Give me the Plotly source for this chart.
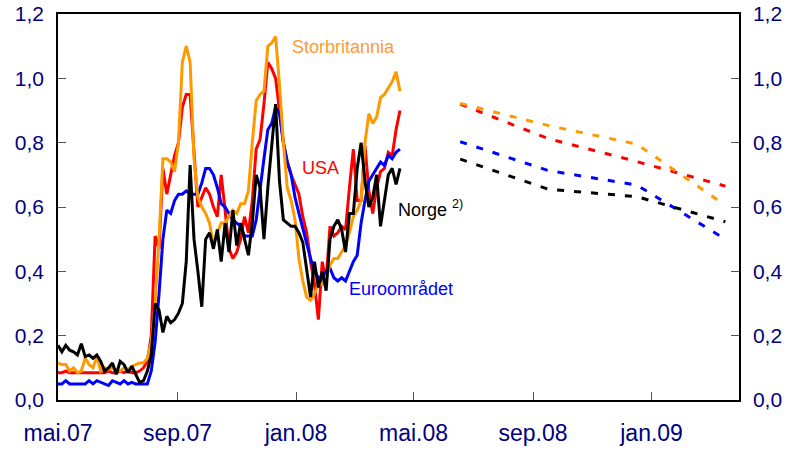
import pandas as pd
import plotly.graph_objects as go

# ---- data -------------------------------------------------------------
start_date = "2007-05-01"
step = "4D"
n_points = 89
dates = pd.date_range(start_date, periods=n_points, freq=step)

norge = [0.17,0.15,0.17,0.155,0.15,0.14,0.175,0.135,0.14,0.13,
         0.14,0.12,0.09,0.10,0.115,0.08,0.12,0.11,0.085,0.105,
         0.08,0.055,0.06,0.09,0.14,0.30,0.28,0.21,0.26,0.24,
         0.25,0.27,0.30,0.43,0.73,0.50,0.40,0.29,0.50,0.52,
         0.47,0.53,0.43,0.55,0.46,0.59,0.48,0.55,0.50,0.45,
         0.55,0.70,0.66,0.50,0.66,0.78,0.92,0.68,0.56,0.55,
         0.54,0.54,0.52,0.49,0.40,0.32,0.43,0.35,0.40,0.34,
         0.50,0.54,0.56,0.53,0.46,0.58,0.58,0.72,0.80,0.68,
         0.60,0.63,0.70,0.54,0.62,0.70,0.72,0.67,0.72]

euro = [0.05,0.05,0.06,0.05,0.05,0.05,0.05,0.05,0.06,0.05,
        0.06,0.055,0.05,0.045,0.06,0.055,0.05,0.06,0.05,0.055,
        0.05,0.05,0.05,0.05,0.09,0.18,0.33,0.50,0.59,0.58,
        0.62,0.64,0.64,0.65,0.64,0.64,0.64,0.675,0.72,0.72,
        0.70,0.66,0.61,0.60,0.58,0.56,0.55,0.54,0.51,0.51,
        0.51,0.56,0.66,0.75,0.84,0.86,0.91,0.89,0.80,0.74,
        0.70,0.63,0.58,0.53,0.48,0.44,0.40,0.38,0.38,0.40,
        0.41,0.38,0.37,0.38,0.37,0.40,0.43,0.45,0.55,0.62,
        0.68,0.70,0.72,0.74,0.73,0.76,0.75,0.77,0.78]

usa = [0.085,0.085,0.09,0.085,0.085,0.085,0.085,0.085,0.085,0.085,
       0.085,0.085,0.085,0.09,0.085,0.085,0.09,0.085,0.09,0.085,
       0.085,0.09,0.10,0.12,0.20,0.51,0.47,0.72,0.64,0.70,
       0.76,0.80,0.91,0.95,0.95,0.77,0.60,0.63,0.66,0.64,
       0.60,0.57,0.70,0.59,0.47,0.44,0.46,0.50,0.57,0.52,
       0.62,0.78,0.81,0.92,1.05,1.03,1.00,0.90,0.80,0.74,
       0.70,0.67,0.64,0.57,0.52,0.43,0.36,0.25,0.43,0.37,
       0.54,0.51,0.52,0.54,0.53,0.66,0.78,0.62,0.62,0.79,
       0.65,0.58,0.66,0.71,0.72,0.77,0.76,0.84,0.90]

uk = [0.115,0.11,0.11,0.09,0.10,0.085,0.09,0.13,0.11,0.10,
      0.135,0.09,0.10,0.095,0.10,0.095,0.09,0.10,0.095,0.105,
      0.11,0.115,0.115,0.13,0.18,0.30,0.50,0.75,0.75,0.74,
      0.71,0.80,1.05,1.10,1.05,0.75,0.63,0.60,0.58,0.55,
      0.48,0.52,0.55,0.55,0.57,0.59,0.58,0.61,0.61,0.65,
      0.80,0.93,0.95,0.96,1.10,1.11,1.13,0.98,0.80,0.66,
      0.62,0.56,0.44,0.37,0.32,0.31,0.33,0.36,0.36,0.38,
      0.42,0.44,0.44,0.46,0.48,0.52,0.57,0.59,0.62,0.80,
      0.89,0.86,0.88,0.94,0.95,0.97,0.99,1.02,0.96]

fwd_dates = ["2008-06-18", "2008-09-17", "2008-12-17", "2009-03-18"]
fwd_uk = [0.922, 0.853, 0.795, 0.605]
fwd_usa = [0.92, 0.812, 0.741, 0.665]
fwd_euro = [0.803, 0.713, 0.668, 0.50]
fwd_norge = [0.749, 0.655, 0.632, 0.554]

x_tickvals = ["2007-05-01", "2007-09-01", "2008-01-01", "2008-05-01", "2008-09-01", "2009-01-01"]
x_ticktext = ["mai.07", "sep.07", "jan.08", "mai.08", "sep.08", "jan.09"]
y_tickvals = [0, 0.2, 0.4, 0.6, 0.8, 1.0, 1.2]
y_ticktext = ["0,0", "0,2", "0,4", "0,6", "0,8", "1,0", "1,2"]

# ---- styles -----------------------------------------------------------
C_UK, C_USA, C_EURO, C_NO = "#FF9900", "#FF0000", "#0000FF", "#000000"
NAVY = "#000080"
FONT = "Liberation Sans, Arial, sans-serif"
DASH = "7px,10px"

fig = go.Figure()
for vals, col in [(usa, C_USA), (euro, C_EURO), (uk, C_UK), (norge, C_NO)]:
    fig.add_trace(go.Scatter(x=dates, y=vals, mode="lines",
                             line=dict(color=col, width=3), showlegend=False))
for vals, col in [(fwd_usa, C_USA), (fwd_euro, C_EURO), (fwd_uk, C_UK), (fwd_norge, C_NO)]:
    fig.add_trace(go.Scatter(x=fwd_dates, y=vals, mode="lines",
                             line=dict(color=col, width=3, dash=DASH), showlegend=False))
# invisible trace for right axis
fig.add_trace(go.Scatter(x=[x_tickvals[0]], y=[0], yaxis="y2", mode="markers",
                         marker=dict(opacity=0), showlegend=False, hoverinfo="skip"))

axis_common = dict(showline=True, linecolor="black", linewidth=1.5,
                   ticks="inside", ticklen=8, tickcolor="#555555", tickwidth=1,
                   showgrid=False, zeroline=False, automargin=False,
                   ticklabeloverflow="allow")

fig.update_layout(
    width=794, height=452,
    margin=dict(l=58, r=55, t=14, b=52),
    paper_bgcolor="white", plot_bgcolor="white",
    xaxis=dict(range=["2007-05-01", "2009-04-01"], type="date",
               tickvals=x_tickvals, ticktext=x_ticktext, mirror=True,
               ticklabelstandoff=12,
               tickfont=dict(family=FONT, size=23, color=NAVY), **axis_common),
    yaxis=dict(range=[0, 1.2], tickvals=y_tickvals, ticktext=y_ticktext,
               ticklabelstandoff=8,
               tickfont=dict(family=FONT, size=21, color=NAVY), **axis_common),
    yaxis2=dict(range=[0, 1.2], tickvals=y_tickvals, ticktext=y_ticktext,
                overlaying="y", side="right", ticklabelstandoff=8,
                tickfont=dict(family=FONT, size=21, color=NAVY), **axis_common),
)

lab_font = dict(family=FONT, size=18)
labels = [
    ("Storbritannia", 0.3407, 0.9145, "#FF9933"),
    ("USA", 0.3554, 0.6010, C_USA),
    ("Norge <sup>2)</sup>", 0.4963, 0.4974, C_NO),
    ("Euroområdet", 0.4244, 0.2876, C_EURO),
]
for text, xp, yp, col in labels:
    fig.add_annotation(text=text, x=xp, y=yp, xref="paper", yref="paper",
                       xanchor="left", yanchor="middle", showarrow=False,
                       font=dict(color=col, **lab_font))

fig.write_html("out.html",
               config={"displayModeBar": False},
               post_script="document.body.style.margin='0';document.body.style.overflow='hidden';")
